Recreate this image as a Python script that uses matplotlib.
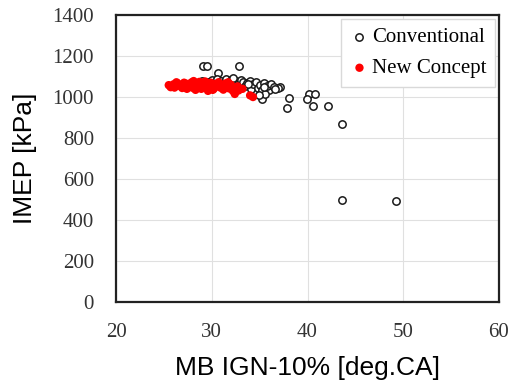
import numpy as np
import matplotlib.pyplot as plt

# Conventional (open circles)
conv_x = [29.1, 29.5, 32.8, 30.6, 43.6, 43.6, 49.2, 38.1, 37.9, 40.2, 39.9, 40.6,
          40.8, 42.1, 35.3, 37.1, 36.0, 36.9, 35.2, 36.0,
          29.0, 29.6, 30.0, 30.3, 30.5, 31.0, 31.2, 31.5, 31.8, 32.0, 32.5, 32.6,
          33.0, 33.0, 33.3, 33.5, 33.7, 34.0, 34.1, 34.3, 34.6, 34.8, 35.0, 35.2,
          35.4, 35.6, 35.8, 36.2, 36.5, 34.9, 28.6, 32.2, 33.8, 35.5, 36.6]
conv_y = [1150, 1150, 1150, 1117, 868, 498, 493, 995, 946, 1015, 990, 956,
          1015, 956, 1029, 1049, 1034, 1044, 990, 1060,
          1078, 1075, 1085, 1072, 1090, 1080, 1070, 1088, 1065, 1082, 1078, 1060,
          1085, 1050, 1075, 1055, 1070, 1080, 1040, 1065, 1072, 1045, 1060, 1035,
          1068, 1015, 1055, 1062, 1048, 1010, 1070, 1092, 1062, 1050, 1040]

# New Concept (filled red)
new_x = [25.5, 25.7, 26.0, 26.2, 26.4, 26.6, 26.8, 27.0, 27.1, 27.3, 27.5, 27.7,
         27.9, 28.0, 28.2, 28.4, 28.5, 28.7, 28.9, 29.0, 29.2, 29.4, 29.5, 29.7,
         29.9, 30.0, 30.2, 30.4, 30.5, 30.7, 30.9, 31.0, 31.2, 31.4, 31.6, 31.8,
         32.0, 32.2, 32.5, 32.8, 26.3, 26.9, 27.4, 27.8, 28.3, 28.8, 29.3, 29.8,
         30.3, 30.8, 31.3, 31.7, 32.1, 26.1, 27.2, 28.6, 30.1, 31.5, 32.4, 34.3,
         34.0, 32.7, 33.2, 29.6, 28.1]
new_y = [1058, 1048, 1062, 1052, 1068, 1055, 1060, 1048, 1070, 1058, 1064, 1050,
         1072, 1045, 1060, 1066, 1052, 1074, 1040, 1062, 1050, 1068, 1056, 1045,
         1070, 1058, 1040, 1064, 1052, 1072, 1046, 1060, 1036, 1066, 1050, 1042,
         1060, 1030, 1045, 1032, 1072, 1044, 1040, 1060, 1035, 1055, 1076, 1060,
         1050, 1062, 1055, 1072, 1048, 1046, 1066, 1062, 1035, 1058, 1015, 1000,
         1008, 1052, 1040, 1030, 1078]

fig, ax = plt.subplots(figsize=(5.16, 3.87), dpi=100)
fig.subplots_adjust(left=0.225, right=0.967, top=0.961, bottom=0.22)

ax.scatter(conv_x, conv_y, s=28, facecolors='white', edgecolors='#1a1a1a',
           linewidths=1.1, label='Conventional', zorder=3)
ax.scatter(new_x, new_y, s=36, color='#ff0000', edgecolors='none',
           label='New Concept', zorder=4)

ax.set_xlim(20, 60)
ax.set_ylim(0, 1400)
ax.set_xticks([20, 30, 40, 50, 60])
ax.set_yticks(range(0, 1401, 200))
ax.grid(True, color='#e0e0e0', linewidth=0.8, zorder=0)
ax.set_axisbelow(True)
ax.tick_params(axis='y', length=0, pad=16)
ax.tick_params(axis='x', length=0, pad=15)
for lab in ax.get_xticklabels() + ax.get_yticklabels():
    lab.set_family('Liberation Serif')
    lab.set_fontsize(15)
    lab.set_color('#333333')
for sp in ax.spines.values():
    sp.set_linewidth(1.6)
    sp.set_color('#222222')

ax.set_xlabel('MB IGN-10% [deg.CA]', family='Liberation Sans', fontsize=19, va='center')
ax.set_ylabel('IMEP [kPa]', family='Liberation Sans', fontsize=19, va='center')
ax.xaxis.set_label_coords(0.5, -0.23)
ax.yaxis.set_label_coords(-0.238, 0.5)

leg = ax.legend(loc='upper right', prop={'family': 'Liberation Serif', 'size': 15},
                fancybox=False, framealpha=1, edgecolor='#d9d9d9',
                handletextpad=0.1, handlelength=1.0, borderpad=0.4,
                borderaxespad=0.2, labelspacing=0.55)

plt.savefig('out.png', dpi=100)
